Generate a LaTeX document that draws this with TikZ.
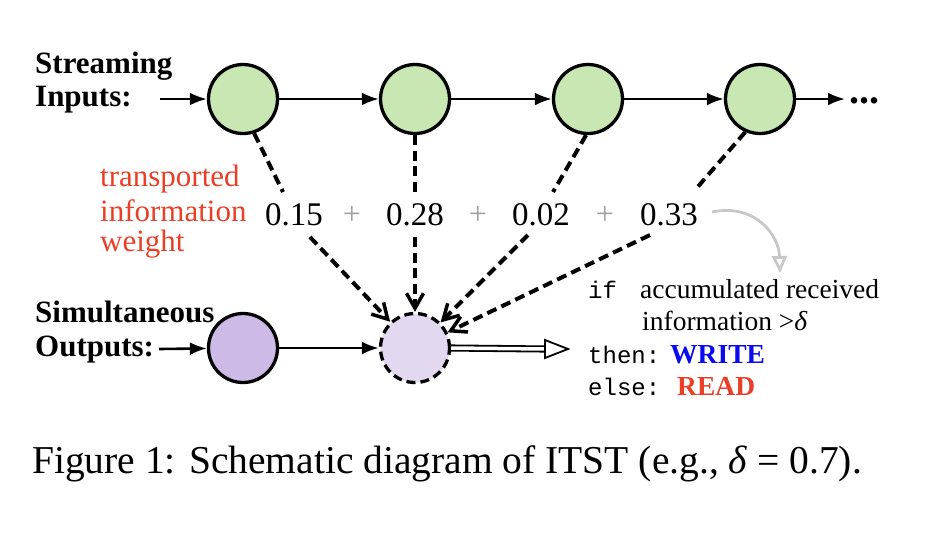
\documentclass[tikz,border=0pt]{standalone}
\usepackage{fontspec}
\setmainfont{Liberation Serif}
\setmonofont{Liberation Mono}
\usetikzlibrary{arrows.meta}
\definecolor{wred}{RGB}{234,63,38}
\definecolor{wblue}{RGB}{10,10,240}
\definecolor{ingreen}{RGB}{201,231,178}
\definecolor{outpurple}{RGB}{206,186,230}
\definecolor{curpurple}{RGB}{226,216,240}
\definecolor{plusgray}{RGB}{160,160,160}
\definecolor{curvegray}{RGB}{200,200,200}
\tikzset{
  tok/.style={circle, draw=black, line width=3.3pt, minimum size=69pt, inner sep=0pt},
  intok/.style={tok, fill=ingreen},
  outtok/.style={tok, fill=outpurple},
  curtok/.style={tok, fill=curpurple, dash pattern=on 9pt off 5pt},
  chain/.style={line width=2.6pt, -{Latex[length=17pt,width=13pt]}},
  weightline/.style={line width=4pt, dash pattern=on 10pt off 5.5pt},
  weightarrow/.style={weightline, -{Straight Barb[length=15pt,width=17pt,line width=3.5pt]}},
  lbl/.style={anchor=base west, inner sep=0pt, font=\fontsize{31}{33}\selectfont\bfseries},
  redlbl/.style={anchor=base west, inner sep=0pt, text=wred, font=\fontsize{31}{33}\selectfont},
  num/.style={anchor=base, inner sep=0pt, font=\fontsize{33}{35}\selectfont},
  plus/.style={inner sep=0pt, text=plusgray, font=\fontsize{32}{34}\selectfont},
  cond/.style={anchor=base west, inner sep=0pt, font=\fontsize{27.5}{30}\selectfont},
  mono/.style={anchor=base west, inner sep=0pt, font=\fontsize{24}{26}\selectfont\ttfamily},
}
\begin{document}
\begin{tikzpicture}[x=1pt,y=-1pt]
\path[use as bounding box] (0,0) rectangle (930,542);

% labels
\node[lbl] (s1) at (35,73) {Streaming};
\node[lbl] (s2) at (35,106) {Inputs:};
\node[lbl] (m1) at (35,322) {Simultaneous};
\node[lbl] (m2) at (35,356) {Outputs:};

\node[redlbl] (r1) at (100,186) {transported};
\node[redlbl] (r2) at (100,221) {information};
\node[redlbl] (r3) at (100,251) {weight};

% input tokens
\node[intok] (c1) at (243,99) {};
\node[intok] (c2) at (415,99) {};
\node[intok] (c3) at (588,99) {};
\node[intok] (c4) at (760,99) {};
\coordinate (inS) at (160,99);
\coordinate (inE) at (845,99);
\node[anchor=base west, inner sep=0pt, font=\fontsize{40}{42}\selectfont\bfseries] (dots) at (849,103) {...};

\draw[chain] (inS) -- (c1);
\draw[chain] (c1) -- (c2);
\draw[chain] (c2) -- (c3);
\draw[chain] (c3) -- (c4);
\draw[chain] (c4) -- (inE);

% output tokens
\node[outtok] (o1) at (243,348) {};
\node[curtok] (o2) at (415,348) {};
\coordinate (outS) at (159,349);
\draw[chain] (outS) -- (o1);
\draw[chain] (o1) -- (o2);

% weights
\node[num] (w1) at (294,225) {0.15};
\node[num] (w2) at (415,225) {0.28};
\node[num] (w3) at (541,225) {0.02};
\node[num] (w4) at (669,225) {0.33};
\node[plus] (p1) at (352,215) {+};
\node[plus] (p2) at (478,215) {+};
\node[plus] (p3) at (605,215) {+};

\coordinate (t1) at (283,192);
\coordinate (b1) at (310,237);
\coordinate (t2) at (415,193);
\coordinate (b2) at (415,237);
\coordinate (t3) at (553,192);
\coordinate (b3) at (528,235);
\coordinate (t4) at (695,190);
\coordinate (b4) at (650,235);

\draw[weightline] (c1.-72) -- (t1);
\draw[weightline] (c2.-90) -- (t2);
\draw[weightline] (c3.-93) -- (t3);
\draw[weightline] (c4.-114) -- (t4);
\draw[weightarrow] (b1) -- (o2);
\draw[weightarrow] (b2) -- (o2);
\draw[weightarrow] (b3) -- (o2);
\draw[weightarrow] (b4) -- (o2);

% grey curve
\coordinate (g0) at (712,212);
\coordinate (g1) at (780,273);
\draw[curvegray, line width=2.8pt, -{Triangle[open,length=17pt,width=15pt,line width=2.8pt]}]
  (g0) .. controls (755,203) and (779,235) .. (g1);

% condition text
\node[mono] (kif) at (588,298) {if};
\node[cond] (c1t) at (640,298) {accumulated received};
\node[cond] (c2t) at (642,330) {information >\textit{δ}};
\node[mono] (kthen) at (588,363) {then:};
\node[cond, font=\fontsize{27.5}{30}\selectfont\bfseries, text=wblue] (kw) at (670,363) {WRITE};
\node[mono] (kelse) at (588,395) {else:};
\node[cond, font=\fontsize{27.5}{30}\selectfont\bfseries, text=wred] (kr) at (677,395) {READ};

% double arrow
\coordinate (dE) at (545,349);
\draw[line width=1.8pt, double=white, double distance=3.5pt] (o2.east) -- (dE);
\draw[line width=1.8pt, fill=white] (545,340) -- (568,349) -- (545,358) -- cycle;

% caption
\node[anchor=base west, inner sep=0pt, font=\fontsize{39.5}{42}\selectfont] (cap) at (32,473)
  {Figure 1: Schematic diagram of ITST (e.g., \textit{δ} = 0.7).};
\end{tikzpicture}
\end{document}
